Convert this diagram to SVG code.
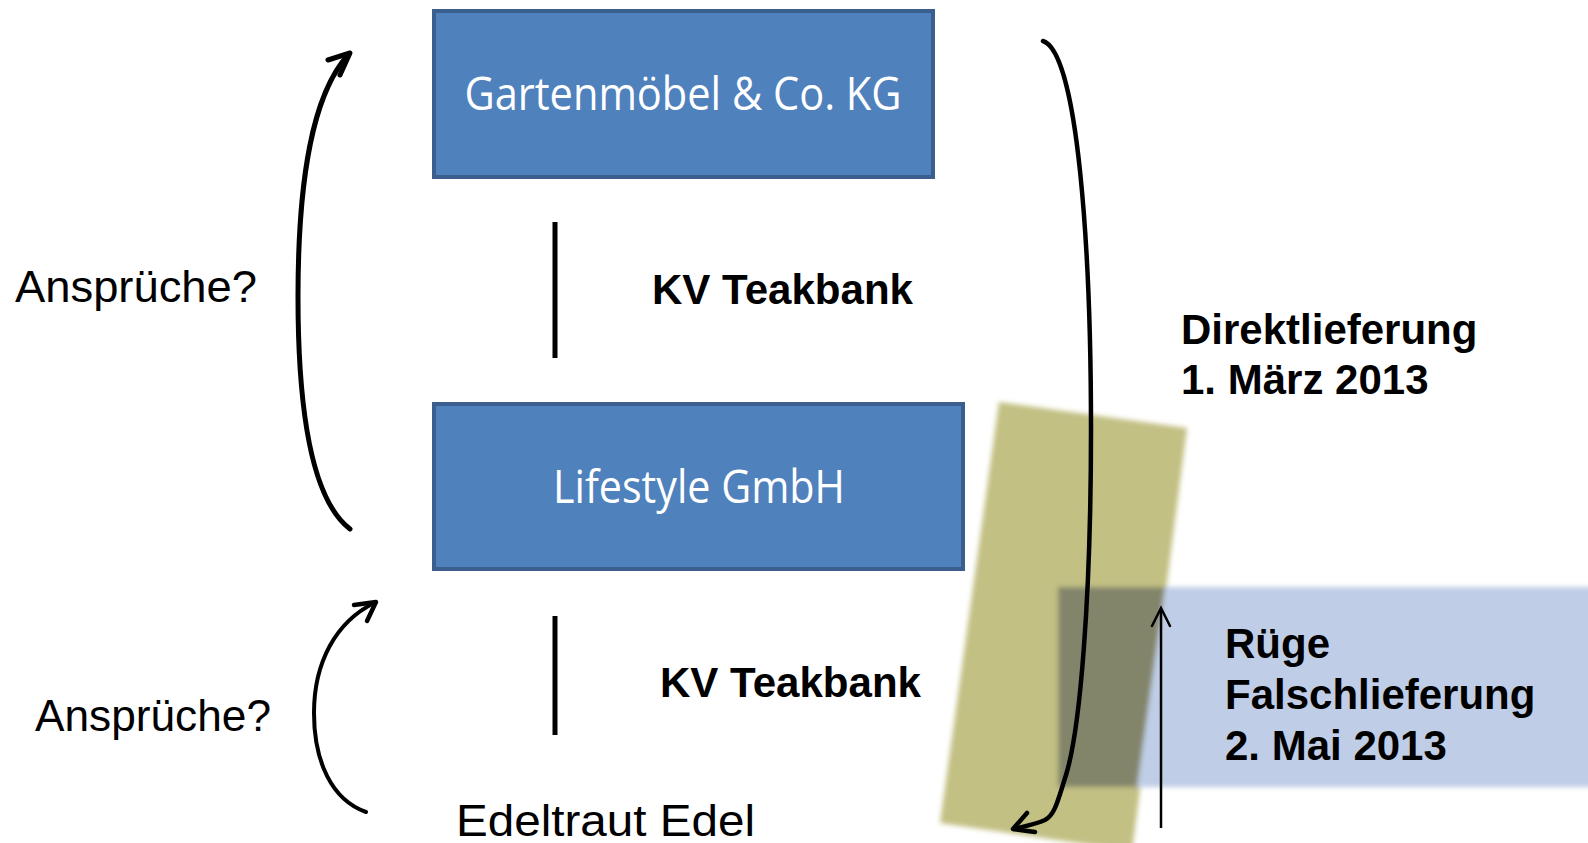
<svg xmlns="http://www.w3.org/2000/svg" width="1588" height="843" viewBox="0 0 1588 843">
  <style>
    .box { fill: #4F81BD; stroke: #3A5F8E; stroke-width: 4; }
    .boxlabel { font-family: "Open Sans", "Liberation Sans", sans-serif; font-size: 45px; fill: #FFFFFF; text-anchor: middle; }
    .bold { font-family: "Liberation Sans", Arial, sans-serif; font-weight: bold; font-size: 42px; fill: #000000; }
    .plain { font-family: "Liberation Sans", Arial, sans-serif; font-size: 45px; fill: #000000; }
    .link { stroke: #000000; stroke-width: 5; fill: none; }
    .arc { stroke: #000000; fill: none; stroke-linecap: round; stroke-linejoin: round; }
  </style>
  <defs>
    <filter id="soft" x="-10%" y="-10%" width="120%" height="120%">
      <feGaussianBlur stdDeviation="2.5"/>
    </filter>
    <filter id="softline" x="-20%" y="-5%" width="140%" height="110%">
      <feGaussianBlur stdDeviation="0.7"/>
    </filter>
  </defs>

  <rect width="1588" height="843" fill="#FFFFFF"/>

  <!-- translucent highlight shapes -->
  <g id="highlights" filter="url(#soft)">
    <polygon points="999,402 1187,428 1132,851 940,823" fill="#C2C083"/>
    <rect x="1058" y="587" width="540" height="200" fill="#BFCEE6"/>
    <polygon points="1058,587 1165,587 1137,787 1058,787" fill="#83856B"/>
  </g>

  <!-- parties -->
  <g id="gartenmoebel">
    <rect class="box" x="434" y="11" width="499" height="166"/>
    <text class="boxlabel" x="683" y="110" textLength="437" lengthAdjust="spacingAndGlyphs">Gartenmöbel &amp; Co. KG</text>
  </g>
  <g id="lifestyle">
    <rect class="box" x="434" y="404" width="529" height="165"/>
    <text class="boxlabel" x="699" y="503" textLength="292" lengthAdjust="spacingAndGlyphs">Lifestyle GmbH</text>
  </g>
  <g id="edel">
    <text class="plain" x="456" y="836" font-size="46" textLength="299" lengthAdjust="spacingAndGlyphs">Edeltraut Edel</text>
  </g>

  <!-- contract labels -->
  <g id="kv1">
    <text class="bold" x="652" y="304" textLength="261" lengthAdjust="spacingAndGlyphs">KV Teakbank</text>
  </g>
  <g id="kv2">
    <text class="bold" x="660" y="697" textLength="261" lengthAdjust="spacingAndGlyphs">KV Teakbank</text>
  </g>

  <!-- side notes -->
  <g id="anspruch1">
    <text class="plain" x="15" y="302" textLength="242" lengthAdjust="spacingAndGlyphs">Ansprüche?</text>
  </g>
  <g id="anspruch2">
    <text class="plain" x="35" y="731" textLength="236" lengthAdjust="spacingAndGlyphs">Ansprüche?</text>
  </g>
  <g id="direkt">
    <text class="bold" x="1181" y="344">Direktlieferung</text>
    <text class="bold" x="1181" y="394">1. März 2013</text>
  </g>
  <g id="ruege">
    <text class="bold" x="1225" y="658">Rüge</text>
    <text class="bold" x="1225" y="709">Falschlieferung</text>
    <text class="bold" x="1225" y="760">2. Mai 2013</text>
  </g>

  <!-- connectors -->
  <g id="connectors">
    <line class="link" x1="555" y1="222" x2="555" y2="358"/>
    <line class="link" x1="555" y1="616" x2="555" y2="735"/>

    <!-- claim arrow Lifestyle -> Gartenmöbel -->
    <path class="arc" stroke-width="5" d="M350,529 C312,500 298,410 298,297 C298,180 312,95 348,55"/>
    <polyline class="arc" stroke-width="5" points="328,60 350,53 340,75"/>

    <!-- claim arrow Edel -> Lifestyle -->
    <g filter="url(#softline)">
      <path class="arc" stroke-width="4" d="M366,812 C332,800 314,762 314,713 C314,662 336,622 374,603"/>
      <polyline class="arc" stroke-width="4.5" points="354,605 376,602 367,621"/>
    </g>

    <!-- direct delivery Gartenmöbel -> Edel -->
    <path class="arc" stroke-width="4.5" d="M1043,41 C1078,52 1091,250 1091,430 C1091,600 1080,730 1066,775 C1058,800 1055,815 1045,820 C1036,824 1026,826 1014,829"/>
    <polyline class="arc" stroke-width="4.5" points="1027,813 1013,829 1035,832"/>

    <!-- complaint arrow -->
    <line x1="1161" y1="828" x2="1161" y2="610" stroke="#000000" stroke-width="2.5"/>
    <polyline fill="none" stroke="#000000" stroke-width="2.5" stroke-linecap="round" points="1152,626 1161,608 1170,626"/>
  </g>
</svg>
